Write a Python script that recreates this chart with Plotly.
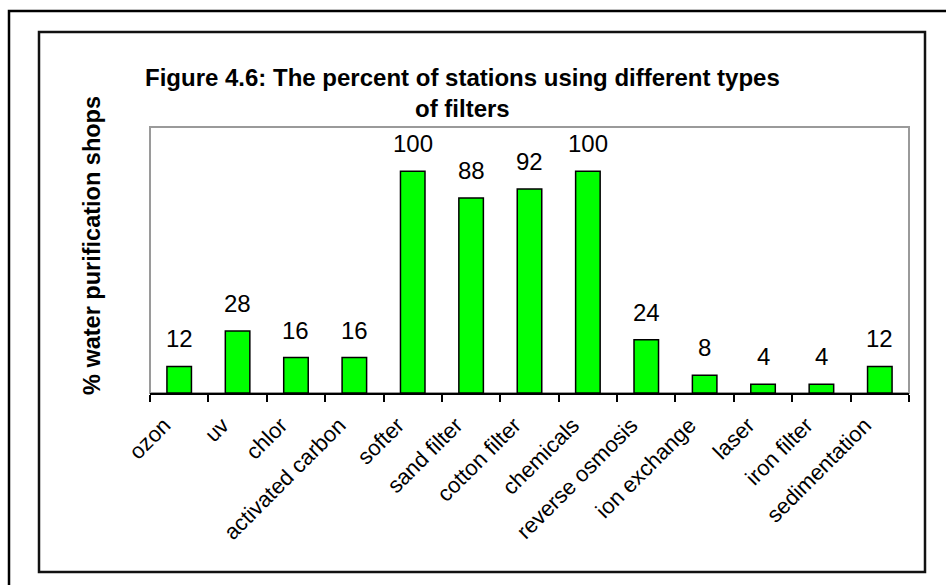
import plotly.graph_objects as go

categories = ["ozon", "uv", "chlor", "activated carbon", "softer", "sand filter",
              "cotton filter", "chemicals", "reverse osmosis", "ion exchange",
              "laser", "iron filter", "sedimentation"]
values = [12, 28, 16, 16, 100, 88, 92, 100, 24, 8, 4, 4, 12]

W, H = 946, 585
L, R, T, B = 150, 909, 127, 393

def px(x):
    return (x - L) / (R - L)

def py(y):
    return (B - y) / (B - T)

fig = go.Figure()
fig.add_trace(go.Bar(
    x=categories, y=values,
    marker=dict(color="#00FF00", line=dict(color="black", width=1.5)),
    width=0.42,
))

for c, v in zip(categories, values):
    fig.add_annotation(x=c, y=v, text=str(v), showarrow=False, yanchor="bottom",
                       yshift=12, font=dict(family="Liberation Sans, Arial", size=24, color="black"))

fig.add_annotation(xref="paper", yref="paper", x=px(92), y=py(246), text="<b>% water purification shops</b>",
                   textangle=-90, showarrow=False, xanchor="center", yanchor="middle",
                   font=dict(family="Liberation Sans, Arial", size=23.5, color="black"))

fig.add_annotation(xref="paper", yref="paper", x=px(462), y=py(62), xanchor="center", yanchor="top",
                   text="<b>Figure 4.6: The percent of stations using different types<br>of filters</b>",
                   showarrow=False,
                   font=dict(family="Liberation Sans, Arial", size=24, color="black"))

shapes = [
    dict(type="rect", xref="paper", yref="paper", x0=px(9), x1=px(960), y0=py(11), y1=py(600),
         line=dict(color="black", width=2.5), layer="below"),
    dict(type="rect", xref="paper", yref="paper", x0=px(39), x1=px(925), y0=py(32), y1=py(572),
         line=dict(color="#111111", width=2.5), layer="below"),
    dict(type="rect", xref="paper", yref="paper", x0=0, x1=1, y0=0, y1=1,
         line=dict(color="#9a9a9a", width=2), layer="below"),
]

fig.update_layout(
    width=W, height=H,
    margin=dict(l=L, r=W - R, t=T, b=H - B),
    paper_bgcolor="white", plot_bgcolor="white",
    showlegend=False,
    shapes=shapes,
    xaxis=dict(showline=True, linecolor="black", linewidth=1.5, ticks="outside", tickson="boundaries",
               ticklen=7, tickwidth=1.5, tickcolor="black", tickangle=-45,
               ticklabelstandoff=9, ticklabelshift=-15,
               tickfont=dict(family="Liberation Sans, Arial", size=22, color="black"),
               showgrid=False, zeroline=False),
    yaxis=dict(range=[0, 120], showticklabels=False, showgrid=False, zeroline=False, ticks=""),
)

fig.write_html("out.html")
